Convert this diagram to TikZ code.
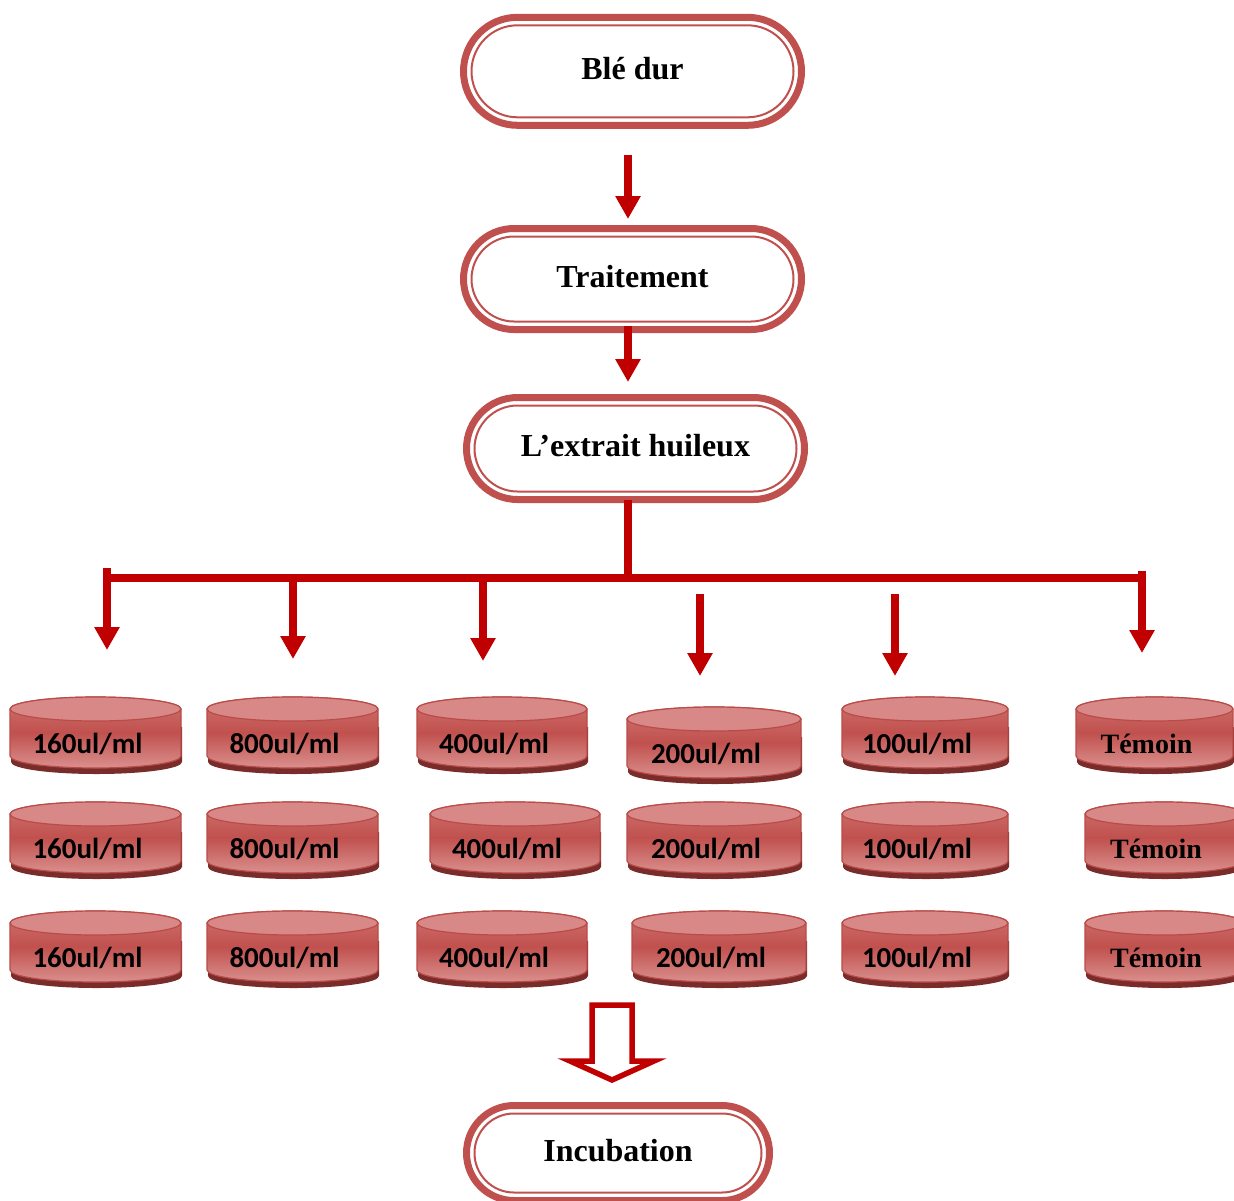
\documentclass[tikz,border=0pt]{standalone}
\usepackage{fontspec}
\setmainfont{Liberation Serif}
\newfontfamily\calib{Carlito}
\usetikzlibrary{shapes.misc,arrows.meta}

\definecolor{pillred}{HTML}{C0504D}
\definecolor{flowred}{HTML}{C00000}
\definecolor{dishmid}{HTML}{C0504D}
\definecolor{dishhigh}{HTML}{D07472}
\definecolor{dishlow}{HTML}{DA908E}
\definecolor{dishtop}{HTML}{D88886}
\definecolor{dishedge}{HTML}{B94B48}
\definecolor{dishshade}{HTML}{7A2C2A}

\tikzset{
  pill/.style={rounded rectangle, draw=pillred, line width=7pt, inner sep=0pt},
  pillin/.style={rounded rectangle, draw=pillred, line width=2pt, inner sep=0pt,
    text depth=6pt, font=\bfseries\fontsize{32}{36}\selectfont},
  flow/.style={draw=flowred, line width=7.5pt, -{Triangle[width=24pt,length=23pt]}},
  bus/.style={draw=flowred, line width=8pt},
  hollow/.style={draw=flowred, line width=5.5pt, fill=white, line join=miter},
  dishtext/.style={font=\calib\bfseries\fontsize{29}{32}\selectfont, inner sep=0pt},
  pics/dish/.style 2 args={code={
    \fill[dishshade] (-#1/2+1,-30) -- (-#1/2+1,-65)
      arc[start angle=180,end angle=360,x radius=#1/2,y radius=12] -- (#1/2+1,-30) -- cycle;
    \shadedraw[top color=dishhigh, bottom color=dishlow, middle color=dishmid,
      draw=dishedge, line width=1.2pt] (-#1/2,-12) -- (-#1/2,-59)
      arc[start angle=180,end angle=360,x radius=#1/2,y radius=12] -- (#1/2,-12)
      arc[start angle=0,end angle=180,x radius=#1/2,y radius=12] -- cycle;
    \filldraw[fill=dishtop, draw=dishedge, line width=1.2pt] (0,-12) ellipse[x radius=#1/2, y radius=12];
    \node[dishtext] (-txt) at (-8,-47) {#2};
  }}
}

\newcommand{\tem}{{\rmfamily\fontsize{28}{32}\selectfont Témoin}}

\begin{document}
\begin{tikzpicture}[x=1pt,y=1pt]

        \useasboundingbox (0,0) rectangle (1234,-1200);
        \clip (0,0) rectangle (1234,-1200);

        \begin{scope}[every node/.style={pill}]
          \node (ble)     at (632.5,-71.3) [minimum width=338pt, minimum height=108pt] {};
          \node (trait)   at (632.5,-279)  [minimum width=338pt, minimum height=101pt] {};
          \node (extrait) at (635.5,-448.5) [minimum width=338pt, minimum height=102pt] {};
          \node (incub)   at (618,-1153)   [minimum width=303pt, minimum height=95pt] {};
        \end{scope}

        \begin{scope}[every node/.style={pillin}]
          \node (ble-in)     at (ble)     [minimum width=322pt, minimum height=92pt] {Blé dur};
          \node (trait-in)   at (trait)   [minimum width=322pt, minimum height=85pt] {Traitement};
          \node (extrait-in) at (extrait) [minimum width=322pt, minimum height=86pt] {L’extrait huileux};
          \node (incub-in)   at (incub)   [minimum width=287pt, minimum height=79pt] {Incubation};
        \end{scope}

        \coordinate (axis) at (628,0);
        \coordinate (bl) at (107,-577.5);
        \coordinate (br) at (1142,-577.5);

        \draw[flow, shorten <=26pt, shorten >=6pt] (ble.south -| axis) -- (trait.north -| axis);
        \draw[flow, shorten <=-7pt, shorten >=12pt] (trait.south -| axis) -- (extrait.north -| axis);
        \draw[bus, shorten <=-3pt] (extrait.south -| axis) -- (bl -| axis);
        \draw[bus] (bl) -- (br);

        \coordinate (t1) at (107,-568);  \coordinate (e1) at (107,-650);
        \coordinate (t2) at (293,-577.5); \coordinate (e2) at (293,-659);
        \coordinate (t3) at (483,-577.5); \coordinate (e3) at (483,-661);
        \coordinate (t4) at (700,-594);  \coordinate (e4) at (700,-676);
        \coordinate (t5) at (895,-594);  \coordinate (e5) at (895,-676);
        \coordinate (t6) at (1142,-571); \coordinate (e6) at (1142,-653);

        \draw[flow] (t1) -- (e1);
        \draw[flow] (t2) -- (e2);
        \draw[flow] (t3) -- (e3);
        \draw[flow] (t4) -- (e4);
        \draw[flow] (t5) -- (e5);
        \draw[flow] (t6) -- (e6);

        \pic (d11) at (95.5,-697) {dish={171}{160ul/ml}};
        \pic (d12) at (95.5,-802) {dish={171}{160ul/ml}};
        \pic (d13) at (95.5,-911) {dish={171}{160ul/ml}};
        \pic (d21) at (292.5,-697) {dish={171}{800ul/ml}};
        \pic (d22) at (292.5,-802) {dish={171}{800ul/ml}};
        \pic (d23) at (292.5,-911) {dish={171}{800ul/ml}};
        \pic (d31) at (502,-697) {dish={170}{400ul/ml}};
        \pic (d32) at (515,-802) {dish={170}{400ul/ml}};
        \pic (d33) at (502,-911) {dish={170}{400ul/ml}};
        \pic (d41) at (714,-707) {dish={174}{200ul/ml}};
        \pic (d42) at (714,-802) {dish={174}{200ul/ml}};
        \pic (d43) at (719,-911) {dish={174}{200ul/ml}};
        \pic (d51) at (925,-697) {dish={166}{100ul/ml}};
        \pic (d52) at (925,-802) {dish={166}{100ul/ml}};
        \pic (d53) at (925,-911) {dish={166}{100ul/ml}};
        \pic (d61) at (1154.5,-697) {dish={157}{\tem}};
        \pic (d62) at (1164,-802) {dish={158}{\tem}};
        \pic (d63) at (1164,-911) {dish={158}{\tem}};

        \draw[hollow] (592,-1005) -- (592,-1061) -- (570,-1061) -- (612,-1080)
          -- (654,-1061) -- (632,-1061) -- (632,-1005) -- cycle;

      \end{tikzpicture}
\end{document}
